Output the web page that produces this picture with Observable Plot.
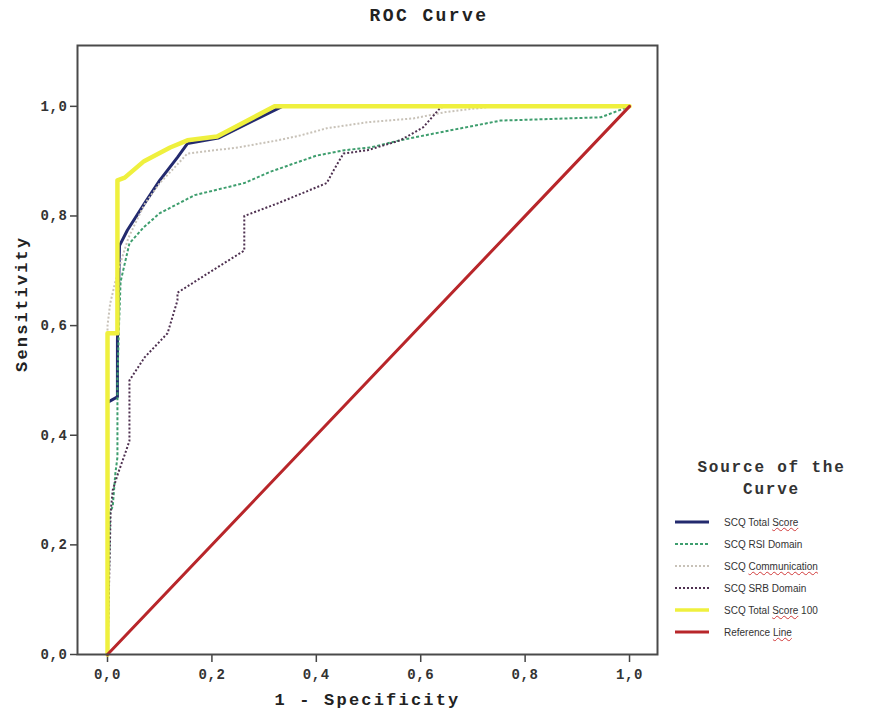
<!DOCTYPE html>
<html>
<head>
<meta charset="utf-8">
<script src="https://cdn.jsdelivr.net/npm/d3@7"></script>
<script src="https://cdn.jsdelivr.net/npm/@observablehq/plot@0.6"></script>
<style>
  body { margin: 0; background: #fff; }
  #wrap { position: relative; width: 869px; height: 722px; overflow: hidden; }
  #title { position: absolute; left: 0; top: 6px; width: 858px; text-align: center;
    font-family: "Liberation Mono", "DejaVu Sans Mono", monospace; font-weight: bold;
    font-size: 18px; letter-spacing: 2.4px; color: #222; }
  #chart { position: absolute; left: 0; top: 0; }
  #chart svg text { letter-spacing: 0.6px; }
  #chart svg g.biglabel text { letter-spacing: 2.2px; }
  #legend { position: absolute; left: 660px; top: 457px; width: 209px; }
  #legend .lt { text-align: center; font-family: "Liberation Mono", "DejaVu Sans Mono", monospace;
    font-weight: bold; font-size: 16px; letter-spacing: 1.8px; color: #333; line-height: 22px;
    margin-left: 14px; }
  #legend .row { position: absolute; left: 14px; height: 22px; display: flex; align-items: center; }
  #legend .row span.t { margin-left: 14px; font-family: "Liberation Sans", Arial, sans-serif;
    font-size: 10px; color: #333; white-space: nowrap; }
  .sq { text-decoration: underline wavy #d23a3a; text-decoration-thickness: 1px; }
</style>
</head>
<body>
<div id="wrap">
  <div id="title">ROC Curve</div>
  <div id="chart"></div>
  <div id="legend"></div>
</div>
<script>
// ---- data ----
const seriesNames = ["SCQ Total Score", "SCQ RSI Domain", "SCQ Communication", "SCQ SRB Domain", "SCQ Total Score 100", "Reference Line"];

const totalScoreX = [0, 0, 0.019, 0.019, 0.023, 0.038, 0.071, 0.10, 0.134, 0.153, 0.212, 0.335, 1];
const totalScoreY = [0, 0.46, 0.47, 0.573, 0.746, 0.774, 0.823, 0.865, 0.907, 0.932, 0.942, 1.0, 1];

const rsiX = [0, 0.005, 0.01, 0.015, 0.019, 0.019, 0.022, 0.025, 0.042, 0.07, 0.10, 0.167, 0.262, 0.31, 0.358, 0.40, 0.454, 0.504, 0.56, 0.65, 0.753, 0.945, 1];
const rsiY = [0, 0.26, 0.27, 0.33, 0.36, 0.50, 0.60, 0.68, 0.75, 0.78, 0.805, 0.838, 0.86, 0.88, 0.896, 0.91, 0.92, 0.925, 0.938, 0.955, 0.974, 0.98, 1];

const commX = [0, 0, 0.005, 0.02, 0.04, 0.07, 0.10, 0.13, 0.153, 0.25, 0.326, 0.37, 0.42, 0.498, 0.586, 0.65, 0.74, 1];
const commY = [0, 0.60, 0.64, 0.70, 0.76, 0.82, 0.86, 0.89, 0.914, 0.925, 0.938, 0.947, 0.96, 0.971, 0.978, 0.99, 1.0, 1];

const srbX = [0, 0.006, 0.01, 0.02, 0.035, 0.042, 0.042, 0.071, 0.115, 0.134, 0.134, 0.20, 0.262, 0.262, 0.326, 0.42, 0.433, 0.452, 0.498, 0.561, 0.605, 0.638, 0.65, 1];
const srbY = [0, 0.26, 0.30, 0.33, 0.37, 0.39, 0.50, 0.542, 0.586, 0.646, 0.66, 0.70, 0.737, 0.80, 0.823, 0.86, 0.883, 0.914, 0.92, 0.938, 0.962, 0.998, 1.0, 1];

const total100X = [0, 0, 0.019, 0.019, 0.033, 0.07, 0.12, 0.153, 0.21, 0.32, 1];
const total100Y = [0, 0.586, 0.586, 0.865, 0.87, 0.90, 0.925, 0.938, 0.945, 1.0, 1];

const refX = [0, 1];
const refY = [0, 1];

const tickValues = [0, 0.2, 0.4, 0.6, 0.8, 1.0];

// ---- build table ----
const xs = [totalScoreX, rsiX, commX, srbX, total100X, refX];
const ys = [totalScoreY, rsiY, commY, srbY, total100Y, refY];
const rows = [];
seriesNames.forEach((s, i) => xs[i].forEach((x, j) => rows.push({series: s, x, y: ys[i][j]})));

const styles = {
  "SCQ Total Score":     {stroke: "#232a6e", strokeWidth: 3, dash: null},
  "SCQ RSI Domain":      {stroke: "#3e9e6e", strokeWidth: 2, dash: "3,2"},
  "SCQ Communication":   {stroke: "#c8c2b8", strokeWidth: 2, dash: "2,2"},
  "SCQ SRB Domain":      {stroke: "#4e3050", strokeWidth: 2, dash: "2,2"},
  "SCQ Total Score 100": {stroke: "#eff03e", strokeWidth: 4.5, dash: null},
  "Reference Line":      {stroke: "#b8262a", strokeWidth: 3, dash: null}
};

const fmt = d => d.toFixed(1).replace(".", ",");

const lineMarks = seriesNames.map(s => Plot.line(rows.filter(r => r.series === s), {
  x: "x", y: "y", stroke: styles[s].stroke, strokeWidth: styles[s].strokeWidth,
  strokeDasharray: styles[s].dash, strokeLinejoin: "round", strokeLinecap: styles[s].dash ? "butt" : "round"
}));

const chart = Plot.plot({
  width: 869, height: 722,
  marginLeft: 77, marginRight: 212, marginTop: 45, marginBottom: 68,
  x: {domain: [-0.0575, 1.0536]},
  y: {domain: [0, 1.111]},
  style: {fontFamily: '"Liberation Mono", "DejaVu Sans Mono", monospace', fontWeight: "bold", fontSize: "14px", color: "#333", background: "transparent"},
  marks: [
    Plot.axisX({ticks: tickValues, tickFormat: fmt, tickSize: 8, tickPadding: 7, label: null, stroke: "#444", strokeWidth: 1.5}),
    Plot.axisY({ticks: tickValues, tickFormat: fmt, tickSize: 7, tickPadding: 3, label: null, stroke: "#444", strokeWidth: 1.5}),
    ...lineMarks,
    Plot.frame({stroke: "#4a4a4a", strokeWidth: 2}),
    Plot.text(["1 - Specificity"], {text: d => d, frameAnchor: "bottom", dy: 50, fontSize: 17, fontWeight: "bold", fill: "#222", className: "biglabel"}),
    Plot.text(["Sensitivity"], {text: d => d, frameAnchor: "left", dx: -56, dy: 22, rotate: -90, fontSize: 17, fontWeight: "bold", fill: "#222", className: "biglabel"})
  ]
});
document.getElementById("chart").appendChild(chart);

// ---- legend ----
const legend = document.getElementById("legend");
legend.innerHTML = '<div class="lt">Source of the<br>Curve</div>';
const labelsHtml = {
  "SCQ Total Score": 'SCQ Total <span class="sq">Score</span>',
  "SCQ RSI Domain": 'SCQ RSI Domain',
  "SCQ Communication": 'SCQ <span class="sq">Communication</span>',
  "SCQ SRB Domain": 'SCQ SRB Domain',
  "SCQ Total Score 100": 'SCQ Total <span class="sq">Score</span> 100',
  "Reference Line": 'Reference <span class="sq">Line</span>'
};
seriesNames.forEach((s, i) => {
  const st = styles[s];
  const row = document.createElement("div");
  row.className = "row";
  row.style.top = (54 + i * 22) + "px";
  row.innerHTML = `<svg width="36" height="10"><line x1="1" x2="35" y1="5" y2="5" stroke="${st.stroke}" stroke-width="${Math.min(st.strokeWidth, 3.5)}" ${st.dash ? `stroke-dasharray="${st.dash}"` : ""}/></svg><span class="t">${labelsHtml[s]}</span>`;
  legend.appendChild(row);
});
</script>
</body>
</html>
